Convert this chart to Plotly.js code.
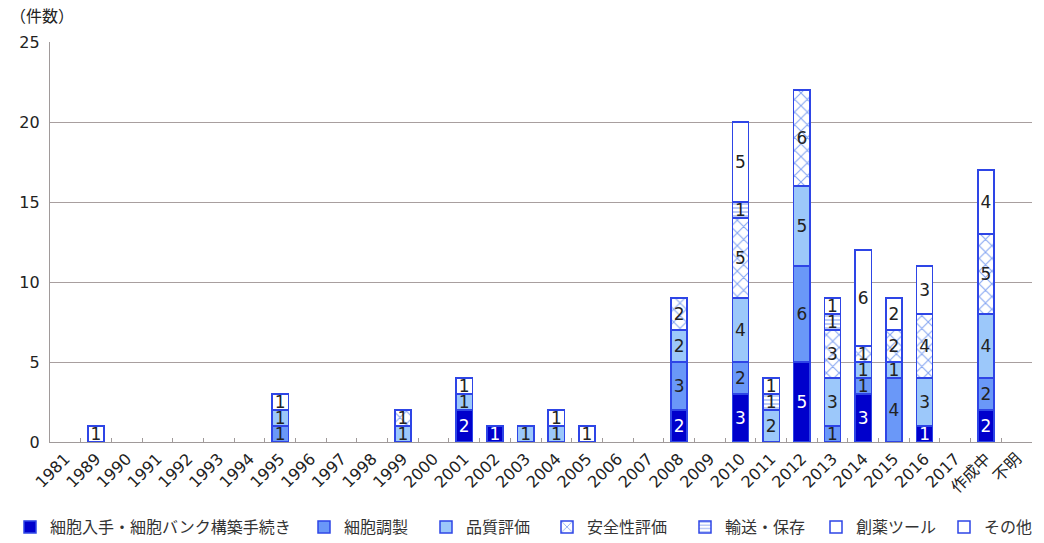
<!DOCTYPE html>
<html>
<head>
<meta charset="utf-8">
<script src="https://cdn.plot.ly/plotly-3.0.1.min.js"></script>
<style>html,body{margin:0;padding:0;background:#fff;}#chart{width:1044px;height:543px;}</style>
</head>
<body>
<div id="chart"></div>
<script>
const categories = ["1981","1989","1990","1991","1992","1993","1994","1995","1996","1997","1998","1999","2000","2001","2002","2003","2004","2005","2006","2007","2008","2009","2010","2011","2012","2013","2014","2015","2016","2017","作成中","不明"];
//                          1981 1989 1990 1991 1992 1993 1994 1995 1996 1997 1998 1999 2000 2001 2002 2003 2004 2005 2006 2007 2008 2009 2010 2011 2012 2013 2014 2015 2016 2017 作成中 不明
const cellAcquisition = [null,null,null,null,null,null,null,null,null,null,null,null,null,2,   1,   null,null,null,null,null,2,   null,3,   null,5,   null,3,   null,1,   null,2,   null];
const cellPreparation = [null,null,null,null,null,null,null,1,   null,null,null,null,null,null,null,null,null,null,null,null,3,   null,2,   null,6,   1,   1,   4,   null,null,2,   null];
const qualityEval     = [null,null,null,null,null,null,null,1,   null,null,null,1,   null,1,   null,1,   1,   null,null,null,2,   null,4,   2,   5,   3,   1,   1,   3,   null,4,   null];
const safetyEval      = [null,null,null,null,null,null,null,null,null,null,null,1,   null,null,null,null,null,null,null,null,2,   null,5,   null,6,   3,   1,   2,   4,   null,5,   null];
const transportStore  = [null,null,null,null,null,null,null,null,null,null,null,null,null,null,null,null,null,null,null,null,null,null,1,   1,   null,1,   null,null,null,null,null,null];
const drugTool        = [null,null,null,null,null,null,null,null,null,null,null,null,null,null,null,null,null,null,null,null,null,null,5,   null,null,null,6,   2,   3,   null,4,   null];
const others          = [null,1,   null,null,null,null,null,1,   null,null,null,null,null,1,   null,null,1,   1,   null,null,null,null,null,1,   null,1,   null,null,null,null,null,null];

const seriesNames = ["細胞入手・細胞バンク構築手続き","細胞調製","品質評価","安全性評価","輸送・保存","創薬ツール","その他"];
const seriesData = [cellAcquisition, cellPreparation, qualityEval, safetyEval, transportStore, drugTool, others];
const fills = ["#0000CC","#6A98F8","#9CC8FA","#FFFFFF","#FFFFFF","#FFFFFF","#FFFFFF"];
const patterns = [null,null,null,{shape:"x",fgcolor:"#86A6F2",bgcolor:"#FFFFFF",size:9,solidity:0.22},{shape:"-",fgcolor:"#8FA8F0",bgcolor:"#FFFFFF",size:4,solidity:0.3},null,null];
const textColors = ["#FFFFFF","#222222","#222222","#222222","#222222","#222222","#222222"];
const outline = "#2E45E6";
const FONT = "DejaVu Sans, Verdana, 'Noto Sans CJK JP', sans-serif";
const JFONT = "'Noto Sans CJK JP', sans-serif";
// left edge (px) of each legend entry along the bottom row
const legendLeftPx = [10, 304, 426, 547, 685, 816, 944];

const legendIds = seriesNames.map((_, i) => i === 0 ? "legend" : "legend" + (i + 1));

const traces = seriesData.map((vals, i) => {
  const t = {
    type: "bar",
    name: seriesNames[i],
    legend: legendIds[i],
    x: categories,
    y: vals,
    text: vals.map(v => v == null ? "" : String(v)),
    textposition: "inside",
    insidetextanchor: "middle",
    textangle: 0,
    textfont: {family: FONT, size: 17, color: textColors[i]},
    hoverinfo: "x+y+name",
    marker: {color: fills[i], line: {color: outline, width: 1.5}}
  };
  if (patterns[i]) t.marker.pattern = patterns[i];
  return t;
});

const layout = {
  width: 1044,
  height: 543,
  barmode: "stack",
  bargap: 0.47,
  paper_bgcolor: "#FFFFFF",
  plot_bgcolor: "#FFFFFF",
  margin: {l: 50, r: 12, t: 42, b: 101},
  font: {family: FONT, color: "#222222", size: 14},
  uniformtext: {mode: "show", minsize: 17},
  showlegend: true,
  xaxis: {
    type: "category",
    categoryorder: "array",
    categoryarray: categories,
    tickangle: -45,
    tickfont: {family: FONT, size: 16, color: "#222222"},
    showline: true,
    linecolor: "#A09A9A",
    linewidth: 1.2,
    ticks: "inside",
    tickson: "boundaries",
    ticklen: 4,
    tickcolor: "#A09A9A",
    showgrid: false,
    automargin: false,
    fixedrange: true
  },
  yaxis: {
    range: [0, 25],
    dtick: 5,
    tick0: 0,
    showline: true,
    linecolor: "#A09A9A",
    linewidth: 1.2,
    gridcolor: "#A89F9F",
    gridwidth: 1,
    zeroline: false,
    ticks: "",
    tickfont: {family: FONT, size: 16, color: "#222222"},
    ticklabelstandoff: 6,
    automargin: false,
    fixedrange: true
  },
  annotations: [{
    text: "（件数）",
    xref: "paper", yref: "paper",
    x: -0.043, y: 1.0675,
    xanchor: "left", yanchor: "middle",
    showarrow: false,
    font: {family: JFONT, size: 16, color: "#222222"}
  }]
};

legendIds.forEach((id, i) => {
  layout[id] = {
    orientation: "h",
    xref: "container", yref: "container",
    x: legendLeftPx[i] / 1044, xanchor: "left",
    y: 0.0608, yanchor: "top",
    font: {family: JFONT, size: 16, color: "#333333"},
    bgcolor: "rgba(0,0,0,0)",
    itemwidth: 30
  };
});

Plotly.newPlot("chart", traces, layout, {displayModeBar: false, staticPlot: true});
</script>
</body>
</html>
